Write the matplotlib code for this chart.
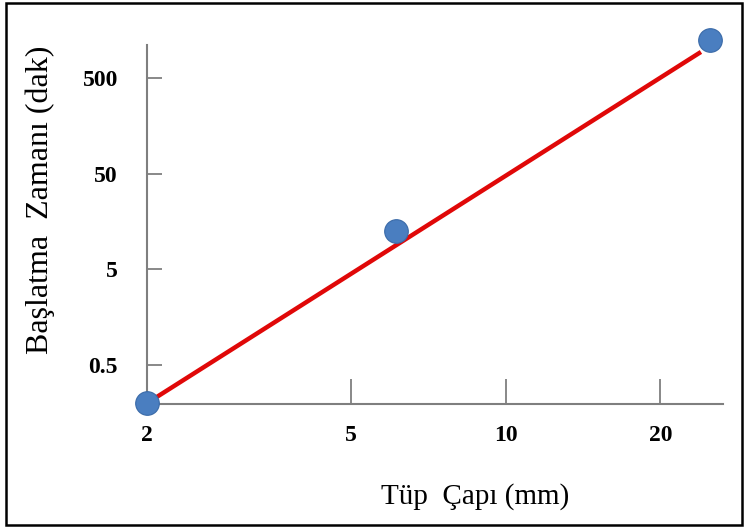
import matplotlib.pyplot as plt
from matplotlib.patches import Rectangle
from matplotlib.ticker import NullLocator

# data
tube_diam = [2.0, 6.1, 25.0]          # mm
start_time = [0.2, 12.5, 1250.0]      # dak
fit_x = [2.0, 24.0]
fit_y = [0.2, 930.0]

x_ticks = [2, 5, 10, 20]
x_labels = ["2", "5", "10", "20"]
y_ticks = [0.5, 5, 50, 500]
y_labels = ["0.5", "5", "50", "500"]

plt.rcParams['font.family'] = ['Liberation Serif', 'DejaVu Serif']

fig = plt.figure(figsize=(7.48, 5.28), dpi=100)
ax = fig.add_axes([0.1965, 0.2348, 0.7701, 0.68])

ax.set_xscale('log')
ax.set_yscale('log')

ax.plot(fit_x, fit_y, color='#e00808', lw=3.2, zorder=2, solid_capstyle='butt')
ax.plot(tube_diam, start_time, 'o', ms=17, color='#4a7ec0',
        markeredgecolor='#3a6aa8', markeredgewidth=0.8, zorder=3, clip_on=False)

ax.set_xlim(2, 26.5)
ax.set_ylim(0.196, 1100)

ax.xaxis.set_minor_locator(NullLocator())
ax.yaxis.set_minor_locator(NullLocator())
ax.set_xticks(x_ticks)
ax.set_xticklabels(x_labels, fontweight='bold', fontsize=17)
ax.set_yticks(y_ticks)
ax.set_yticklabels(y_labels, fontweight='bold', fontsize=17)

ax.tick_params(axis='x', direction='in', length=18, width=1.3, color='#7f7f7f', pad=15)
ax.tick_params(axis='y', direction='in', length=11, width=1.3, color='#7f7f7f', pad=21)

for side in ['top', 'right']:
    ax.spines[side].set_visible(False)
for side in ['left', 'bottom']:
    ax.spines[side].set_color('#7f7f7f')
    ax.spines[side].set_linewidth(1.5)

fig.text(0.635, 0.059, "Tüp  Çapı (mm)", fontsize=21, ha='center', va='center')
fig.text(0.054, 0.621, "Başlatma  Zamanı (dak)", fontsize=23, rotation=90,
         ha='center', va='center')

# black frame round the whole picture
fig.patches.append(Rectangle((0.008, 0.006), 0.984, 0.988, transform=fig.transFigure,
                             fill=False, edgecolor='black', lw=1.8))

fig.savefig('out.png', dpi=100)
